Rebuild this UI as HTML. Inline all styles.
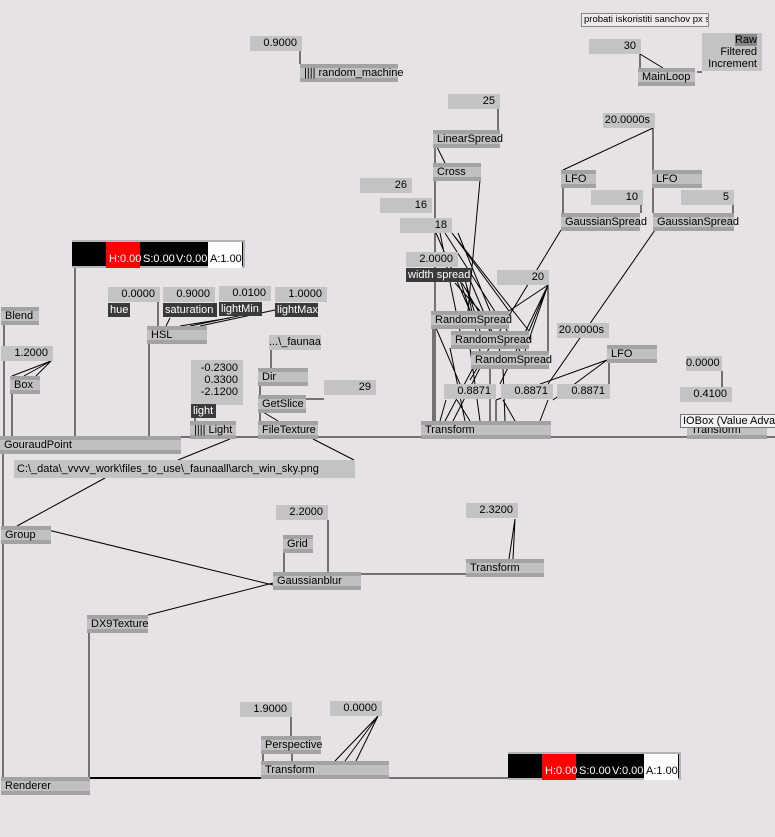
<!DOCTYPE html>
<html><head><meta charset="utf-8"><style>
body{margin:0;width:775px;height:837px;background:#e6e2e6;position:relative;overflow:hidden;font-family:"Liberation Sans",sans-serif;font-size:11px;}
svg{position:absolute;left:0;top:0}
.n{position:absolute;height:18px;background:#c0c0c0;border-top:4px solid #a3a3a3;border-bottom:4px solid #a3a3a3;box-sizing:border-box;padding-left:4px;line-height:10px;white-space:nowrap;color:#000}
.io{position:absolute;height:15px;background:#c3c3c3;text-align:right;padding-right:5px;box-sizing:border-box;line-height:15px;white-space:nowrap}
.lb{position:absolute;height:14px;background:#3a3a3a;color:#fff;padding-left:2px;box-sizing:border-box;line-height:14px;white-space:nowrap}
.cb{position:absolute;height:28px;background:#000;border:2px solid #b4b4b4;border-left:none;box-sizing:border-box}
.cb span{position:absolute;bottom:1px;color:#fff;font-size:11px}
</style></head><body>
<svg width="775" height="837" stroke="#000" stroke-width="1" fill="none">
<path d="M300 50V64M640 54V68M640 54L663 68M697 72H702M498 109V130M435 147V163M437 147L445 163M435 180V421M480 180L468 311M653 128L563 170M653 128V170M563 187V213M653 187V213M641 205V213M733 205V213M561 230L470 380M655 230L548 384"/>
<path d="M548 285V351M548 285L509 311M548 285L529 331M548 285L525 351M548 285L500 384"/>
<path d="M452 233L509 311M452 233L529 331M445 233L520 351M458 233L490 311M436 233L470 311M460 280L470 311M465 280L480 331M470 280L500 351M440 233L460 331M455 283L480 311M462 283L490 331M466 283L480 351"/>
<path d="M433 328V421M436 328L460 384M450 348L465 421M470 348L480 421M473 368L445 421M480 368L453 421M490 368L490 421M503 368L505 421M607 360L496 400M607 360L553 400M609 360V384M446 400L440 421M457 400L470 421M496 400V421M503 400L515 421M548 400L540 421"/>
<path d="M722 371V387M181 437H775M75 268V436M149 343V436M158 302V326M170 318L166 326M230 318L180 326M262 311L190 326M275 310L200 326M4 324V436M12 393V436M51 361L12 376M51 361L24 376M51 361L36 376M216 404L238 398M195 418V421M271 350V368M260 385V395M306 399H324M260 412V421M263 412L278 421M230 439L178 460M313 439L354 460"/>
<path d="M3 454V777M17 526L105 478M48 530L273 585M148 615L273 583M284 551V572M328 520V572M361 574H466M515 519L509 559M515 519L513 559M89 631V777M389 778H508M291 717V736M263 753V761M292 753V761M378 716L335 761M378 716L345 761M378 716L356 761"/>
<path d="M90 778H261" stroke-width="2"/>
</svg>
<div style="position:absolute;left:581px;top:13px;width:128px;height:14px;border:1px solid #888;box-sizing:border-box;line-height:12px;padding-left:2px;font-size:9.5px;white-space:nowrap;overflow:hidden;background:#eeeaee">probati iskoristiti sanchov px shader</div>
<div class="io" style="left:250px;top:36px;width:52px">0.9000</div>
<div class="n" style="left:300px;top:64px;width:98px">|||| random_machine</div>
<div class="io" style="left:589px;top:39px;width:52px">30</div>
<div class="n" style="left:638px;top:68px;width:57px">MainLoop</div>
<div class="io" style="left:702px;top:33px;width:60px;height:38px;line-height:12px;padding-top:1px"><span style="background:#888">Raw</span><br>Filtered<br>Increment</div>
<div class="io" style="left:448px;top:94px;width:52px">25</div>
<div class="n" style="left:433px;top:130px;width:67px">LinearSpread</div>
<div class="n" style="left:433px;top:163px;width:48px">Cross</div>
<div class="io" style="left:603px;top:113px;width:52px">20.0000s</div>
<div class="n" style="left:561px;top:170px;width:35px">LFO</div>
<div class="n" style="left:652px;top:170px;width:50px">LFO</div>
<div class="io" style="left:591px;top:190px;width:52px">10</div>
<div class="io" style="left:681px;top:190px;width:53px">5</div>
<div class="n" style="left:561px;top:213px;width:79px">GaussianSpread</div>
<div class="n" style="left:653px;top:213px;width:81px">GaussianSpread</div>
<div class="io" style="left:360px;top:178px;width:52px">26</div>
<div class="io" style="left:380px;top:198px;width:52px">16</div>
<div class="io" style="left:400px;top:218px;width:52px">18</div>
<div class="io" style="left:406px;top:252px;width:52px">2.0000</div>
<div class="lb" style="left:406px;top:268px;width:65px">width spread</div>
<div class="io" style="left:497px;top:270px;width:52px">20</div>
<div class="n" style="left:431px;top:311px;width:78px">RandomSpread</div>
<div class="n" style="left:451px;top:331px;width:78px">RandomSpread</div>
<div class="n" style="left:471px;top:351px;width:78px">RandomSpread</div>
<div class="io" style="left:557px;top:323px;width:52px">20.0000s</div>
<div class="n" style="left:607px;top:345px;width:50px">LFO</div>
<div class="io" style="left:444px;top:384px;width:52px">0.8871</div>
<div class="io" style="left:501px;top:384px;width:52px">0.8871</div>
<div class="io" style="left:557px;top:384px;width:53px">0.8871</div>
<div class="n" style="left:421px;top:421px;width:130px">Transform</div>
<div class="io" style="left:686px;top:356px;width:36px">0.0000</div>
<div class="io" style="left:680px;top:387px;width:52px">0.4100</div>
<div class="n" style="left:687px;top:421px;width:80px">Transform</div>
<div style="position:absolute;left:680px;top:414px;width:100px;height:14px;background:#f4f4f4;border:1px solid #777;box-sizing:border-box;line-height:12px;padding-left:2px;white-space:nowrap;overflow:hidden">IOBox (Value Advanced)</div>
<div class="cb" style="left:72px;top:240px;width:173px"><div style="position:absolute;left:34px;top:0;width:34px;height:26px;background:#f00"></div><div style="position:absolute;left:136px;top:0;width:34px;height:26px;background:#fff"></div><span style="left:37px">H:0.00</span><span style="left:71px">S:0.00</span><span style="left:104px">V:0.00</span><span style="left:138px;color:#000">A:1.00</span></div>
<div class="io" style="left:108px;top:287px;width:52px">0.0000</div>
<div class="lb" style="left:108px;top:303px;width:22px">hue</div>
<div class="io" style="left:163px;top:287px;width:52px">0.9000</div>
<div class="lb" style="left:163px;top:303px;width:54px">saturation</div>
<div class="io" style="left:219px;top:286px;width:52px">0.0100</div>
<div class="lb" style="left:219px;top:302px;width:43px">lightMin</div>
<div class="io" style="left:275px;top:287px;width:52px">1.0000</div>
<div class="lb" style="left:275px;top:303px;width:43px">lightMax</div>
<div class="n" style="left:147px;top:326px;width:60px">HSL</div>
<div class="n" style="left:1px;top:307px;width:38px">Blend</div>
<div class="io" style="left:1px;top:346px;width:52px">1.2000</div>
<div class="n" style="left:10px;top:376px;width:30px">Box</div>
<div class="io" style="left:191px;top:360px;width:52px;height:45px;line-height:12px;padding-top:2px">-0.2300<br>0.3300<br>-2.1200</div>
<div class="lb" style="left:191px;top:404px;width:25px">light</div>
<div class="n" style="left:190px;top:421px;width:46px">|||| Light</div>
<div class="io" style="left:269px;top:335px;width:52px">...\_faunaa</div>
<div class="n" style="left:258px;top:368px;width:50px">Dir</div>
<div class="n" style="left:258px;top:395px;width:48px">GetSlice</div>
<div class="io" style="left:324px;top:380px;width:52px">29</div>
<div class="n" style="left:258px;top:421px;width:60px">FileTexture</div>
<div class="n" style="left:0px;top:436px;width:181px">GouraudPoint</div>
<div class="io" style="left:14px;top:460px;width:341px;height:18px;text-align:left;padding-left:3px;line-height:18px">C:\_data\_vvvv_work\files_to_use\_faunaall\arch_win_sky.png</div>
<div class="n" style="left:1px;top:526px;width:50px">Group</div>
<div class="io" style="left:276px;top:505px;width:52px">2.2000</div>
<div class="n" style="left:283px;top:535px;width:30px">Grid</div>
<div class="n" style="left:273px;top:572px;width:88px">Gaussianblur</div>
<div class="io" style="left:466px;top:503px;width:52px">2.3200</div>
<div class="n" style="left:466px;top:559px;width:78px">Transform</div>
<div class="n" style="left:87px;top:615px;width:61px">DX9Texture</div>
<div class="io" style="left:240px;top:702px;width:52px">1.9000</div>
<div class="io" style="left:330px;top:701px;width:52px">0.0000</div>
<div class="n" style="left:261px;top:736px;width:60px">Perspective</div>
<div class="n" style="left:261px;top:761px;width:128px">Transform</div>
<div class="n" style="left:1px;top:777px;width:89px">Renderer</div>
<div class="cb" style="left:508px;top:752px;width:173px"><div style="position:absolute;left:34px;top:0;width:34px;height:26px;background:#f00"></div><div style="position:absolute;left:136px;top:0;width:34px;height:26px;background:#fff"></div><span style="left:37px">H:0.00</span><span style="left:71px">S:0.00</span><span style="left:104px">V:0.00</span><span style="left:138px;color:#000">A:1.00</span></div>
</body></html>
